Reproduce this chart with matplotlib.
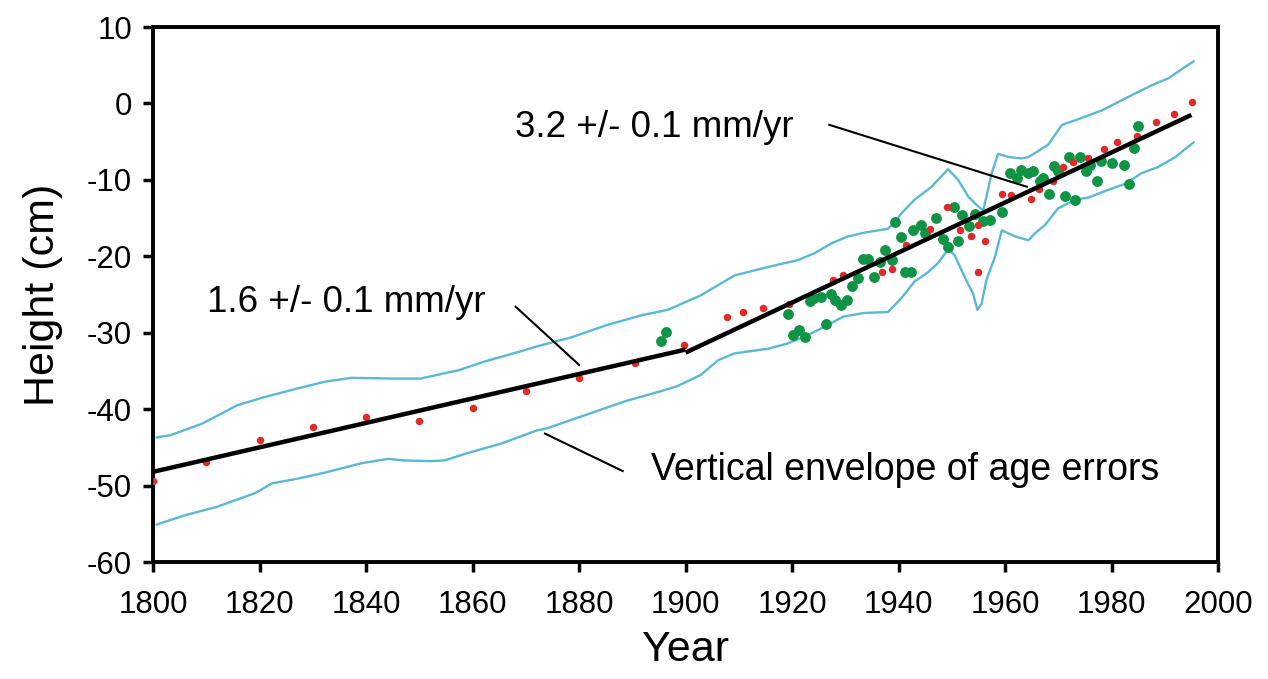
import numpy as np
import matplotlib
matplotlib.use("Agg")
import matplotlib.pyplot as plt

plt.rcParams['font.family'] = ['Liberation Sans', 'DejaVu Sans']
plt.rcParams['axes.unicode_minus'] = False

# tide gauge style points (red)
red_x = [1800, 1810, 1820, 1830, 1840, 1850, 1860, 1870, 1880, 1890.5, 1899.8,
         1907.8, 1910.7, 1914.6, 1919.5, 1927.7, 1929.5, 1936.8, 1938.7, 1941.4,
         1945.9, 1949.1, 1951.5, 1953.7, 1955.0, 1956.3, 1955.0, 1959.4, 1961.1,
         1964.9, 1966.4, 1969.1, 1970.8, 1972.8, 1975.5, 1978.6, 1981.1, 1984.7,
         1988.4, 1991.8, 1995.2]
red_y = [-49.4, -46.9, -44.0, -42.4, -41.0, -41.6, -39.9, -37.6, -35.9, -34.0, -31.6,
         -27.9, -27.3, -26.8, -26.2, -23.1, -22.5, -22.0, -21.7, -18.5,
         -16.4, -13.6, -16.6, -17.4, -15.9, -18.0, -22.1, -11.8, -12.0,
         -12.5, -11.2, -10.2, -8.3, -7.6, -7.1, -5.9, -5.1, -4.2,
         -2.4, -1.4, 0.2]

# dated samples (green)
green_x = [1895.4, 1896.3, 1919.3, 1920.1, 1921.4, 1922.4, 1923.3, 1924.2, 1925.5,
           1926.3, 1927.4, 1928.0, 1929.1, 1930.3, 1931.3, 1932.3, 1933.3, 1934.3,
           1935.4, 1936.6, 1937.4, 1938.7, 1939.3, 1940.4, 1941.2, 1942.4, 1942.8,
           1944.2, 1944.9, 1947.0, 1948.4, 1949.2, 1950.4, 1951.2, 1951.9, 1953.3,
           1954.3, 1955.9, 1957.2, 1959.4, 1960.9, 1962.2, 1963.0, 1964.4, 1965.3,
           1966.6, 1967.2, 1968.3, 1969.2, 1970.0, 1971.2, 1972.0, 1973.2, 1974.0,
           1975.2, 1976.0, 1977.2, 1978.1, 1980.1, 1982.3, 1983.3, 1984.3, 1985.0]
green_y = [-31.1, -29.9, -27.6, -30.3, -29.7, -30.6, -25.9, -25.5, -25.3,
           -28.8, -24.9, -25.7, -26.4, -25.7, -23.9, -22.9, -20.3, -20.4,
           -22.7, -20.8, -19.2, -20.5, -15.5, -17.5, -22.1, -22.0, -16.6,
           -15.9, -16.9, -15.0, -17.7, -18.8, -13.6, -18.0, -14.6, -16.0,
           -14.5, -15.4, -15.3, -14.2, -9.1, -9.8, -8.7, -9.1, -8.9,
           -10.2, -9.8, -11.9, -8.2, -8.9, -12.1, -7.0, -12.6, -7.0,
           -8.9, -8.1, -10.2, -7.5, -7.8, -8.1, -10.5, -5.8, -3.0]

# envelope of age errors
upper_x = [1800.7, 1803.3, 1809.2, 1815.8, 1820.5, 1827.1, 1832.3, 1837.3, 1845.6,
           1850.2, 1857.4, 1862.1, 1868.7, 1872.0, 1878.6, 1885.2, 1891.8, 1896.7,
           1902.9, 1909.2, 1915.5, 1921.1, 1924.2, 1927.4, 1930.5, 1933.6, 1938.0,
           1939.3, 1940.5, 1943.0, 1946.2, 1949.3, 1951.2, 1953.1, 1955.0, 1955.9,
           1956.5, 1957.5, 1958.7, 1960.6, 1963.1, 1964.4, 1965.6, 1968.1, 1970.7,
           1974.4, 1978.2, 1981.3, 1984.4, 1987.6, 1990.7, 1993.2, 1995.4]
upper_y = [-43.7, -43.4, -41.9, -39.5, -38.5, -37.3, -36.4, -35.9, -36.0,
           -36.0, -34.9, -33.8, -32.5, -31.8, -30.6, -29.0, -27.7, -27.0,
           -25.1, -22.5, -21.4, -20.5, -19.6, -18.3, -17.4, -16.9, -16.4,
           -15.5, -14.4, -12.6, -10.9, -8.6, -10.0, -12.2, -13.5, -14.0,
           -12.2, -9.1, -6.6, -7.0, -7.2, -7.0, -6.5, -5.4, -2.8,
           -1.9, -0.9, 0.2, 1.3, 2.4, 3.3, 4.5, 5.5]

lower_x = [1800.7, 1805.9, 1811.9, 1819.1, 1822.4, 1827.1, 1832.3, 1839.0, 1844.2,
           1846.9, 1852.2, 1854.8, 1858.8, 1865.4, 1872.0, 1874.0, 1881.9, 1888.5,
           1895.1, 1898.4, 1902.9, 1906.1, 1909.2, 1915.5, 1919.2, 1923.0, 1926.7,
           1929.6, 1933.6, 1938.0, 1940.5, 1943.0, 1945.5, 1947.4, 1949.3, 1950.5,
           1952.4, 1954.0, 1954.8, 1955.6, 1956.5, 1958.1, 1959.4, 1961.9, 1964.4,
           1965.6, 1967.5, 1970.0, 1973.2, 1975.7, 1979.4, 1982.6, 1985.7, 1988.8,
           1992.0, 1995.4]
lower_y = [-55.1, -53.9, -52.8, -51.0, -49.7, -49.1, -48.3, -47.1, -46.5,
           -46.7, -46.8, -46.7, -45.8, -44.5, -42.8, -42.5, -40.6, -39.0,
           -37.7, -37.0, -35.5, -33.6, -32.7, -32.1, -31.4, -30.3, -29.0,
           -27.9, -27.4, -27.3, -25.5, -23.3, -22.1, -20.9, -19.1, -19.8,
           -22.7, -24.9, -27.0, -26.2, -23.1, -20.1, -16.6, -17.4, -17.9,
           -17.0, -15.9, -13.7, -12.6, -12.3, -11.3, -10.5, -9.1, -8.3,
           -7.0, -5.1]

# linear fits
fit1_x = [1800, 1900]
fit1_y = [-48.2, -32.2]
fit2_x = [1900, 1995]
fit2_y = [-32.6, -1.5]

xticks = list(range(1800, 2001, 20))
yticks = list(range(-60, 11, 10))

fig = plt.figure(figsize=(12.68, 6.79), dpi=100)
ax = fig.add_axes([0.1207, 0.1723, 0.8399, 0.7879])

env_col = '#5ab8d6'
ax.plot(upper_x, upper_y, color=env_col, lw=1.7, zorder=2)
ax.plot(lower_x, lower_y, color=env_col, lw=1.7, zorder=2)

ax.plot(green_x, green_y, 'o', color='#0f9446', ms=7.8, mec='none', zorder=3)
ax.plot(red_x, red_y, 'o', color='#e02a2a', ms=5.4, mec='none', zorder=4)

ax.plot(fit1_x, fit1_y, color='black', lw=3.2, zorder=5, solid_capstyle='butt')
ax.plot(fit2_x, fit2_y, color='black', lw=3.2, zorder=5, solid_capstyle='butt')

# annotations with leader lines
ax.text(1868.0, -3.1, '3.2 +/- 0.1 mm/yr', fontsize=26.5, ha='left', va='center')
ax.plot([1927.0, 1964.1], [-2.8, -10.9], color='black', lw=1.5, zorder=6)

ax.text(1810.2, -26.0, '1.6 +/- 0.1 mm/yr', fontsize=26.5, ha='left', va='center')
ax.plot([1868.1, 1880.0], [-26.6, -34.2], color='black', lw=1.5, zorder=6)

ax.text(1893.5, -48.0, 'Vertical envelope of age errors', fontsize=27, ha='left', va='center')
ax.plot([1873.6, 1888.2], [-43.2, -48.1], color='black', lw=1.5, zorder=6)

ax.set_xlim(1800, 2000)
ax.set_ylim(-60, 10)
ax.set_xticks(xticks)
ax.set_yticks(yticks)
ax.tick_params(direction='out', length=7, width=2.5, labelsize=22.5)
ax.tick_params(axis='x', pad=13)
ax.tick_params(axis='y', pad=8)
for s in ax.spines.values():
    s.set_linewidth(2.8)

ax.set_xlabel('Year', fontsize=31, labelpad=7)
ax.set_ylabel('Height (cm)', fontsize=31, labelpad=17)

fig.savefig('out.png', dpi=100)
